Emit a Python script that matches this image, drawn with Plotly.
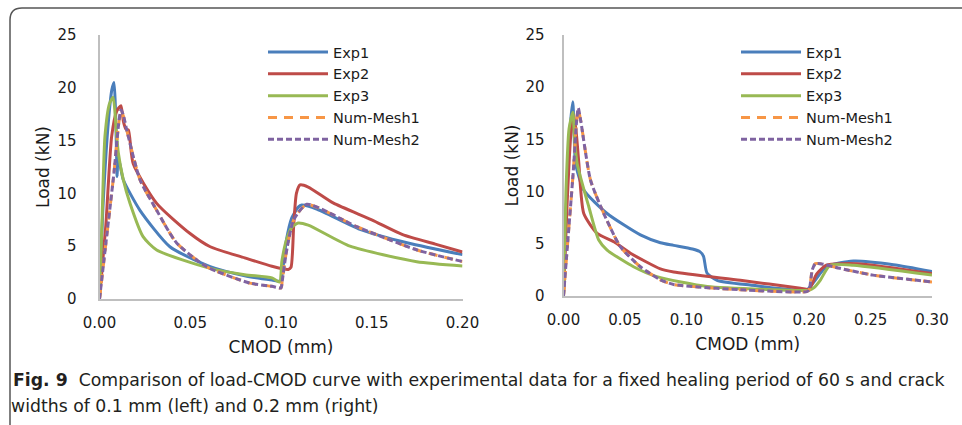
import plotly.graph_objects as go

# ---------------- Data: left chart (crack width 0.1 mm) ----------------
L_exp1_x = [0, 0.002, 0.005, 0.0068, 0.008, 0.0088, 0.0093, 0.0097, 0.0102, 0.0112, 0.0131, 0.0223, 0.0388, 0.061, 0.08, 0.095, 0.0998,
            0.1008, 0.103, 0.106, 0.1095, 0.1114, 0.12, 0.1435, 0.17, 0.2]
L_exp1_y = [0, 9.0, 17.0, 19.8, 20.5, 18.0, 14.5, 11.6, 13.3, 12.8, 11.3, 8.4, 4.95, 3.06, 2.2, 1.8, 1.7,
            2.6, 5.6, 7.7, 8.7, 8.9, 8.5, 6.6, 5.3, 4.2]

L_exp2_x = [0, 0.0035, 0.0067, 0.0095, 0.0118, 0.0132, 0.0145, 0.0159, 0.0186, 0.0315, 0.0499, 0.061, 0.08, 0.095, 0.104,
            0.1055, 0.107, 0.1085, 0.1105, 0.115, 0.1287, 0.15, 0.167, 0.185, 0.2]
L_exp2_y = [0, 7.0, 15.4, 17.8, 18.3, 16.8, 16.1, 16.0, 12.8, 9.06, 6.2, 4.95, 3.9, 3.1, 2.8,
            3.0, 7.0, 10.0, 10.8, 10.6, 9.1, 7.5, 6.1, 5.2, 4.45]

L_exp3_x = [0, 0.0015, 0.003, 0.0055, 0.0075, 0.0092, 0.0104, 0.0131, 0.0168, 0.024, 0.0315, 0.061, 0.08, 0.095, 0.0992,
            0.1005, 0.103, 0.106, 0.1094, 0.115, 0.138, 0.1748, 0.2]
L_exp3_y = [0, 8.0, 15.4, 18.5, 19.1, 16.0, 13.8, 11.3, 9.06, 5.9, 4.64, 2.9, 2.3, 2.0, 1.6,
            3.6, 5.6, 6.8, 7.2, 7.0, 5.0, 3.53, 3.13]

L_mesh1_x = [0, 0.004, 0.008, 0.0105, 0.0118, 0.013, 0.015, 0.0223, 0.0315, 0.0425, 0.059, 0.083, 0.095, 0.1,
             0.1006, 0.103, 0.107, 0.1142, 0.1417, 0.175, 0.2]
L_mesh1_y = [0, 6.0, 12.0, 16.5, 17.8, 17.4, 16.0, 11.3, 8.4, 5.3, 3.06, 1.5, 1.2, 1.05,
             1.6, 4.5, 7.5, 8.95, 6.85, 4.64, 3.55]
L_mesh2_x = list(L_mesh1_x)
L_mesh2_y = [0, 6.0, 12.0, 16.5, 17.9, 17.5, 16.0, 11.3, 8.4, 5.3, 3.06, 1.5, 1.2, 1.05,
             1.6, 4.5, 7.5, 8.97, 6.85, 4.64, 3.55]

# ---------------- Data: right chart (crack width 0.2 mm) ----------------
R_exp1_x = [0, 0.003, 0.006, 0.0076, 0.0088, 0.0098, 0.0165, 0.0355, 0.0626, 0.0789, 0.0897, 0.105, 0.111, 0.114, 0.1168,
            0.125, 0.152, 0.198, 0.2035, 0.214, 0.236, 0.2686, 0.3]
R_exp1_y = [0, 11.0, 17.0, 18.6, 15.0, 12.7, 10.15, 7.9, 5.85, 5.1, 4.85, 4.5, 4.25, 3.8, 2.2,
            1.5, 1.05, 0.6, 1.3, 2.8, 3.35, 3.0, 2.35]

R_exp2_x = [0, 0.003, 0.006, 0.0085, 0.0105, 0.0125, 0.0165, 0.0274, 0.041, 0.0545, 0.0789, 0.0897, 0.144, 0.193, 0.2,
            0.206, 0.214, 0.239, 0.3]
R_exp2_y = [0, 9.0, 15.5, 17.3, 15.5, 12.7, 7.9, 6.0, 5.2, 4.1, 2.6, 2.3, 1.5, 0.75, 0.65,
            2.1, 2.95, 3.1, 2.15]

R_exp3_x = [0, 0.002, 0.0045, 0.0076, 0.009, 0.0111, 0.0206, 0.0287, 0.0355, 0.057, 0.076, 0.117, 0.171, 0.2,
            0.204, 0.209, 0.217, 0.236, 0.3]
R_exp3_y = [0, 10.0, 16.0, 17.6, 15.0, 12.7, 8.55, 5.36, 4.4, 2.8, 1.85, 0.9, 0.6, 0.55,
            0.8, 1.5, 2.95, 2.95, 2.0]

R_mesh1_x = [0, 0.004, 0.008, 0.0105, 0.012, 0.014, 0.022, 0.0328, 0.0463, 0.0626, 0.0789, 0.0897, 0.144, 0.198,
             0.2, 0.2025, 0.205, 0.209, 0.225, 0.252, 0.3]
R_mesh1_y = [0, 6.0, 12.0, 16.5, 17.9, 16.8, 11.1, 7.9, 4.72, 2.8, 1.55, 1.1, 0.6, 0.42,
             0.6, 2.5, 3.1, 3.1, 2.65, 2.0, 1.35]
R_mesh2_x = list(R_mesh1_x)
R_mesh2_y = [0, 6.0, 12.0, 16.5, 18.0, 16.8, 11.1, 7.9, 4.72, 2.8, 1.55, 1.1, 0.6, 0.42,
             0.6, 2.5, 3.1, 3.1, 2.65, 2.0, 1.35]

names = ["Exp1", "Exp2", "Exp3", "Num-Mesh1", "Num-Mesh2"]
colors = ["#4A7EBB", "#BE4B48", "#98B954", "#F79646", "#7F63A1"]
dashes = ["solid", "solid", "solid", "9px,7px", "6px,3px"]

left_tick_vals = [0, 0.05, 0.10, 0.15, 0.20]
left_tick_text = ["0.00", "0.05", "0.10", "0.15", "0.20"]
right_tick_vals = [0, 0.05, 0.10, 0.15, 0.20, 0.25, 0.30]
right_tick_text = ["0.00", "0.05", "0.10", "0.15", "0.20", "0.25", "0.30"]
y_tick_vals = [0, 5, 10, 15, 20, 25]

caption_bold = "Fig. 9"
caption_line1 = "Comparison of load-CMOD curve with experimental data for a fixed healing period of 60 s and crack"
caption_line2 = "widths of 0.1 mm (left) and 0.2 mm (right)"

W, H = 962, 425
FONT = "DejaVu Sans"
TXT = "#1a1a1a"

fig = go.Figure()
left_sets = [(L_exp1_x, L_exp1_y), (L_exp2_x, L_exp2_y), (L_exp3_x, L_exp3_y), (L_mesh1_x, L_mesh1_y), (L_mesh2_x, L_mesh2_y)]
right_sets = [(R_exp1_x, R_exp1_y), (R_exp2_x, R_exp2_y), (R_exp3_x, R_exp3_y), (R_mesh1_x, R_mesh1_y), (R_mesh2_x, R_mesh2_y)]

for i, (xs, ys) in enumerate(left_sets):
    fig.add_trace(go.Scatter(x=xs, y=ys, name=names[i], mode="lines", xaxis="x", yaxis="y",
                             line=dict(color=colors[i], width=3, dash=dashes[i], shape="spline", smoothing=0.6),
                             legend="legend"))
for i, (xs, ys) in enumerate(right_sets):
    fig.add_trace(go.Scatter(x=xs, y=ys, name=names[i], mode="lines", xaxis="x2", yaxis="y2",
                             line=dict(color=colors[i], width=3, dash=dashes[i], shape="spline", smoothing=0.6),
                             legend="legend2"))

def px(x):
    return x / W

def py(y):
    return 1 - y / H

axis_common = dict(showgrid=False, zeroline=False, showline=True, linecolor="#BFBFBF", linewidth=2,
                   ticks="", tickfont=dict(family=FONT, size=15, color=TXT))
title_font = dict(family=FONT, size=17, color=TXT)

fig.update_layout(
    width=W, height=H, margin=dict(l=0, r=0, t=0, b=0, autoexpand=False),
    paper_bgcolor="white", plot_bgcolor="white",
    font=dict(family=FONT, color=TXT),
    xaxis=dict(domain=[px(99.5), px(462.5)], range=[0, 0.2], anchor="y",
               tickvals=left_tick_vals, ticktext=left_tick_text, ticklabelstandoff=9,
               title=dict(text="CMOD (mm)", font=title_font, standoff=10), **axis_common),
    yaxis=dict(domain=[py(299), py(35)], range=[0, 25], anchor="x", tickvals=y_tick_vals, ticklabelstandoff=18,
               title=dict(text="Load (kN)", font=title_font, standoff=3), **axis_common),
    xaxis2=dict(domain=[px(563.5), px(932)], range=[0, 0.3], anchor="y2",
                tickvals=right_tick_vals, ticktext=right_tick_text, ticklabelstandoff=9,
                title=dict(text="CMOD (mm)", font=title_font, standoff=10), **axis_common),
    yaxis2=dict(domain=[py(296), py(35)], range=[0, 25], anchor="x2", tickvals=y_tick_vals, ticklabelstandoff=14,
                title=dict(text="Load (kN)", font=title_font, standoff=2), **axis_common),
    legend=dict(x=px(263), y=py(36), xanchor="left", yanchor="top", bgcolor="rgba(0,0,0,0)", itemwidth=60,
                font=dict(family=FONT, size=14.5, color=TXT), tracegroupgap=0),
    legend2=dict(x=px(736), y=py(36), xanchor="left", yanchor="top", bgcolor="rgba(0,0,0,0)", itemwidth=60,
                 font=dict(family=FONT, size=14.5, color=TXT), tracegroupgap=0),
    showlegend=True,
)

# figure frame (rounded top-left corner)
fig.add_shape(type="path", xref="paper", yref="paper",
              path=f"M {px(10)},{py(425)} L {px(10)},{py(20)} Q {px(10)},{py(8)} {px(22)},{py(8)} L {px(962)},{py(8)}",
              line=dict(color="#555555", width=1.5))

fig.add_annotation(xref="paper", yref="paper", x=px(11), y=py(380), xanchor="left", yanchor="middle",
                   text=f"<b>{caption_bold}</b>  {caption_line1}", showarrow=False,
                   font=dict(family=FONT, size=17.3, color="#231F20"))
fig.add_annotation(xref="paper", yref="paper", x=px(9), y=py(406), xanchor="left", yanchor="middle",
                   text=caption_line2, showarrow=False,
                   font=dict(family=FONT, size=17.3, color="#231F20"))

fig.write_html("out.html", post_script="document.body.style.margin='0px';")
